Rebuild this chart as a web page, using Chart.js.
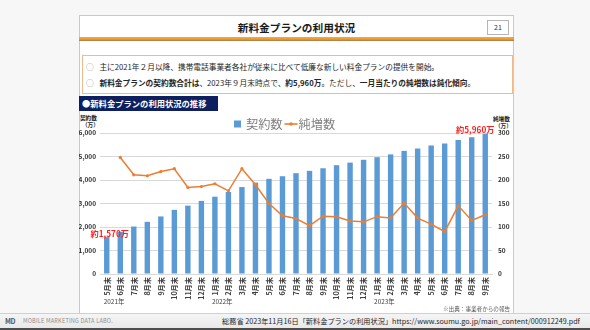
<!DOCTYPE html>
<html>
<head>
<meta charset="utf-8">
<script src="https://cdn.jsdelivr.net/npm/chart.js@4.4.0/dist/chart.umd.min.js"></script>
<style>
  html, body { margin: 0; padding: 0; }
  body {
    width: 590px; height: 330px; position: relative; overflow: hidden;
    background: #f7f7f7;
    font-family: "Noto Sans CJK JP", "Noto Sans", sans-serif; color: #262626;
  }
  .abs { position: absolute; white-space: nowrap; }
  #slide {
    position: absolute; left: 79px; top: 15px; width: 435px; height: 299px;
    box-sizing: border-box; background: #fff; border: 1px solid #c9c9c9;
  }
  #title { left: 79px; width: 435px; top: 21px; text-align: center; font-weight: 700; font-size: 10.7px; line-height: 14px; color: #1a1a1a; }
  #page { left: 487px; top: 20px; width: 22px; height: 15px; box-sizing: border-box; border: 1px solid #b5b5b5; font-size: 7px; line-height: 13px; text-align: center; color: #333; }
  #rule { left: 79px; top: 37px; width: 435px; height: 4px; background: linear-gradient(#f6a93b 0%, #ec9a2a 55%, #9a7a52 100%); }
  #points { left: 82px; top: 55px; width: 431px; height: 39px; box-sizing: border-box; border: 1px solid #f2b98a; }
  .pt { font-size: 7.7px; line-height: 12px; color: #262626; }
  .pt .c { color: #8c8c8c; margin-right: 4px; }
  .pt b { font-weight: 700; }
  #sect { left: 79px; top: 96px; width: 139px; height: 15px; background: #0d1f5e; color: #fff; font-weight: 700; font-size: 8.3px; line-height: 15px; padding-left: 3px; box-sizing: border-box; }
  .axt { font-size: 5.6px; font-weight: 700; line-height: 7px; color: #1a1a1a; }
  #chartBox { position: absolute; left: 79px; top: 112px; width: 434px; height: 200px; }
  #src { left: 443px; top: 305px; font-size: 5.6px; color: #595959; }
  #foot { left: 0; top: 313px; width: 590px; height: 15px; background: linear-gradient(#f5f5f5, #e9e9e9); border-top: 1px solid #d0d0d0; box-sizing: border-box; }
  #footline { left: 0; top: 328px; width: 590px; height: 2px; background: #4d4d4d; }
  #logo { left: 5px; top: 317px; font-size: 7px; font-weight: 700; color: #5a5a5a; letter-spacing: -0.5px; line-height: 8px; }
  #brand { left: 23px; top: 318px; font-size: 5.6px; color: #8f8f8f; letter-spacing: 0.2px; line-height: 7px; }
  #cite { left: 222px; top: 316px; font-size: 7.2px; color: #1f1f1f; line-height: 10px; }
</style>
</head>
<body>
<div id="slide"></div>
<div id="title" class="abs">新料金プランの利用状況</div>
<div id="page" class="abs">21</div>
<div id="rule" class="abs"></div>
<div id="points" class="abs"></div>
<div class="abs pt" style="left:86px;top:61px;"><span class="c">○</span> 主に2021年２月以降、携帯電話事業者各社が従来に比べて低廉な新しい料金プランの提供を開始。</div>
<div class="abs pt" style="left:86px;top:77px;"><span class="c">○</span> <b>新料金プランの契約数合計は</b>、2023年９月末時点で、<b>約5,960万</b>。ただし、<b>一月当たりの純増数は鈍化傾向</b>。</div>
<div id="sect" class="abs">●新料金プランの利用状況の推移</div>
<div class="abs axt" style="left:80px;top:115px;">契約数</div>
<div class="abs axt" style="left:82px;top:122px;">（万）</div>
<div class="abs axt" style="left:493px;top:116px;">純増数</div>
<div class="abs axt" style="left:495px;top:123px;">（万）</div>
<div id="chartBox"><canvas id="chart" width="434" height="200"></canvas></div>
<div id="src" class="abs">※出典：事業者からの報告</div>
<div id="foot" class="abs"></div>
<div id="footline" class="abs"></div>
<div id="logo" class="abs">MD</div>
<div id="brand" class="abs">MOBILE MARKETING DATA LABO.</div>
<div id="cite" class="abs">総務省 2023年11月16日「新料金プランの利用状況」https://www.soumu.go.jp/main_content/000912249.pdf</div>

<script>
// Month-end labels, May 2021 – September 2023
const months = [
  '5月末','6月末','7月末','8月末','9月末','10月末','11月末','12月末',
  '1月末','2月末','3月末','4月末','5月末','6月末','7月末','8月末','9月末','10月末','11月末','12月末',
  '1月末','2月末','3月末','4月末','5月末','6月末','7月末','8月末','9月末'
];

// Year captions and the month index each one starts under
const years = ['2021年', '2022年', '2023年'];
const yearStart = [0, 8, 20];

// Total contracts on the new plans (万)
const contracts = [
  1570, 1800, 2020, 2220, 2450, 2730, 2910, 3110,
  3290, 3490, 3700, 3890, 4050, 4160, 4290, 4390, 4500, 4630, 4740, 4860,
  4970, 5090, 5240, 5340, 5470, 5550, 5700, 5820, 5960
];

// Net increase per month (万); no figure for the first month
const netAdds = [
  null, 248, 211, 209, 218, 224, 184, 186,
  192, 177, 224, 190, 150, 124, 118, 103, 123, 122, 113, 111,
  122, 119, 151, 119, 106, 90, 145, 114, 126
];

// Left axis 0–6,000, right axis 0–300
const leftMax = 6000, leftStep = 1000;
const rightMax = 300, rightStep = 50;

// Bars whose value is called out in red
const calloutIdx = [0, months.length - 1];

const FONT = '"Noto Sans CJK JP", "Noto Sans", sans-serif';
const BLUE = '#5b9bd5';
const ORANGE = '#ed7d31';

const fmt = v => v.toLocaleString('en-US');

// Legend, year captions and value callouts drawn on the chart canvas
const decorations = {
  id: 'decorations',
  afterDraw(chart) {
    const {ctx, scales: {x, y}} = chart;
    const bars = chart.data.datasets.find(d => d.type === 'bar');
    const line = chart.data.datasets.find(d => d.type === 'line');
    ctx.save();

    // legend: bar swatch, then line-with-marker swatch
    const lx = 155, ly = 12;
    ctx.font = `12.2px ${FONT}`;
    ctx.textBaseline = 'middle';
    ctx.textAlign = 'left';
    ctx.fillStyle = bars.backgroundColor;
    ctx.fillRect(lx, ly - 3.5, 7, 7);
    ctx.fillStyle = '#7f7f7f';
    ctx.fillText(bars.label, lx + 12, ly);
    const ox = lx + 12 + ctx.measureText(bars.label).width + 2;
    ctx.strokeStyle = line.borderColor; ctx.lineWidth = 1.6;
    ctx.beginPath(); ctx.moveTo(ox, ly); ctx.lineTo(ox + 13, ly); ctx.stroke();
    ctx.fillStyle = line.borderColor;
    ctx.beginPath(); ctx.arc(ox + 6.5, ly, 1.8, 0, Math.PI * 2); ctx.fill();
    ctx.fillStyle = '#7f7f7f';
    ctx.fillText(line.label, ox + 14, ly);

    // year captions under the month labels
    ctx.font = `6.4px ${FONT}`;
    ctx.fillStyle = '#404040';
    ctx.textAlign = 'left';
    years.forEach((t, i) => {
      ctx.fillText(t, x.getPixelForValue(yearStart[i]) - 3, 190);
    });

    // callouts for the first and latest totals
    ctx.font = `bold 8.2px ${FONT}`;
    ctx.fillStyle = '#ff1f1f';
    ctx.textAlign = 'center';
    ctx.textBaseline = 'bottom';
    calloutIdx.forEach(i => {
      const v = contracts[i];
      const px = x.getPixelForValue(i);
      const py = y.getPixelForValue(v);
      ctx.fillText('約' + fmt(v) + '万', px + (i === 0 ? 3 : -10), py + (i === 0 ? 1 : 0));
    });
    ctx.restore();
  }
};

new Chart(document.getElementById('chart'), {
  data: {
    labels: months,
    datasets: [
      {
        type: 'line', label: '純増数', data: netAdds, yAxisID: 'y1',
        borderColor: ORANGE, backgroundColor: ORANGE, borderWidth: 1.5,
        pointRadius: 1.6, pointHoverRadius: 1.6, pointBorderWidth: 0,
        tension: 0, order: 0, spanGaps: false
      },
      {
        type: 'bar', label: '契約数', data: contracts, yAxisID: 'y',
        backgroundColor: BLUE, borderWidth: 0,
        barPercentage: 0.4, categoryPercentage: 1, order: 1
      }
    ]
  },
  options: {
    responsive: false,
    animation: false,
    events: [],
    layout: { padding: { top: 21, left: 0, right: 0, bottom: 0 } },
    plugins: { legend: { display: false }, tooltip: { enabled: false } },
    scales: {
      x: {
        offset: true,
        grid: { display: false, drawTicks: false },
        border: { display: true, color: '#d9d9d9' },
        ticks: {
          minRotation: 90, maxRotation: 90, autoSkip: false, padding: 3,
          color: '#404040', font: { family: FONT, size: 7.2, weight: 'bold' }
        },
        afterFit(s) { s.height = 38; }
      },
      y: {
        position: 'left', min: 0, max: leftMax,
        grid: { color: '#d9d9d9', lineWidth: 1, drawTicks: false },
        border: { display: false },
        ticks: {
          stepSize: leftStep, padding: 4, color: '#333',
          font: { family: FONT, size: 6.5, weight: 'bold' },
          callback: v => fmt(v)
        },
        afterFit(s) { s.width = 21; }
      },
      y1: {
        position: 'right', min: 0, max: rightMax,
        grid: { display: false, drawTicks: false },
        border: { display: false },
        ticks: {
          stepSize: rightStep, padding: 6, color: '#333',
          font: { family: FONT, size: 6.5, weight: 'bold' }
        },
        afterFit(s) { s.width = 21; }
      }
    }
  },
  plugins: [decorations]
});
</script>
</body>
</html>
